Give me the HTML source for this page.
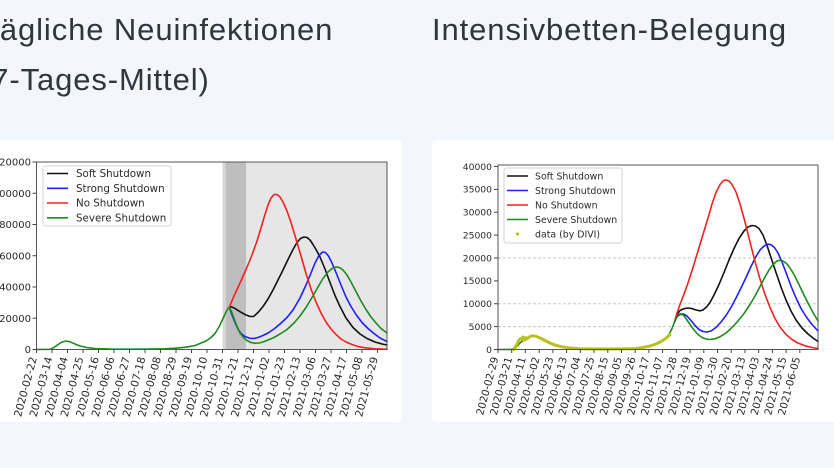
<!DOCTYPE html>
<html>
<head>
<meta charset="utf-8">
<style>
  html,body{margin:0;padding:0;}
  body{width:834px;height:468px;overflow:hidden;background:#f3f6fa;position:relative;}
  .title{position:absolute;top:5px;font-family:"Liberation Sans",sans-serif;font-size:31px;line-height:50px;letter-spacing:0.9px;color:#30363e;white-space:nowrap;}
  .panel{position:absolute;top:140px;height:282px;width:422px;background:#fff;border-radius:4px;}
  svg{position:absolute;left:0;top:0;}
  svg text{font-family:"DejaVu Sans","Liberation Sans",sans-serif;fill:#2a2a2a;}
</style>
</head>
<body>
<div class="title" style="left:-20px;">Tägliche Neuinfektionen<br>(7-Tages-Mittel)</div>
<div class="title" style="left:432px;">Intensivbetten-Belegung</div>
<div class="panel" style="left:-20px;"></div>
<div class="panel" style="left:432px;"></div>

<svg width="834" height="468" viewBox="0 0 834 468">
  <!-- ================= LEFT CHART ================= -->
  <rect x="222.7" y="162" width="164.3" height="187.5" fill="#e6e6e6"/>
  <rect x="222.7" y="162" width="3.3" height="187.5" fill="#d5d5d5"/>
  <rect x="226" y="162" width="20" height="187.5" fill="#bebebe"/>

  <g fill="none" stroke-width="1.6" stroke-linejoin="round" stroke-linecap="round">
    <polyline stroke="#111" points="229.3,307.3 231.5,306.8 235,308.5 240,311.7 245,314.5 250,316.5 253.5,316.5 258,312.5 263,306.5 268,299 273,290 278,280 283,270 288,259.5 293,249.5 297,242.5 300.5,238.5 304,237 307,237.5 310,240 313,244.5 316,249.5 320,257 325,269 330,282.5 335,295.5 340,306.5 346,318 353,327.5 360,334 367,338.5 375,342 382,344 387,345"/>
    <polyline stroke="#1f1fff" points="229.3,307.3 232,315 235,322.5 238,329 241,333.5 245,336.5 250,338.3 254,338.5 258,337.5 263,335.5 268,333 274,329 280,324 287,317.5 293,310 300,298 306,285 311,273 315,263 319,255.5 322.5,252 325.5,252.5 328.5,256 332,263 336,272.5 341,285 346,297 351,306.5 356,314.5 362,322.5 368,328.5 374,333.5 380,338 387,341.5"/>
    <polyline stroke="#f52020" points="229.3,307.3 234,296 240,283 246,269.5 252,255 257,241 261,228 264.5,216 268,205 271,198 274,194.5 277,194.5 280,197 283,202 287,211 291,222.5 296,239 301,256 306,273.5 311,289 316,302 321,313 326,322 331,329 336,334.5 341,339 346,342 352,344.5 358,346.5 365,347.8 375,348.8 387,349.3"/>
    <polyline stroke="#1e8a1e" points="36.5,349.5 50,349.3 54,347.5 58,344.5 62,342 66,341 70,341.8 75,344 80,346 87,347.6 95,348.5 110,349 130,349.2 150,349.1 165,348.8 175,348.2 186,347.2 195,345.5 200,343.5 206,341 211,337.5 215,333.5 219,327 223,318.5 226,312 228,308.5 229.3,307.3 231.5,311.5 234,318.5 237,326.5 240,333 243.5,337.5 247,340.5 251,342.5 255,343.2 259,343 263,342 268,340 274,337.5 280,334 287,329.5 294,323 300,316 306,307.5 312,297.5 318,287 323,278.5 328,272 332,268.5 336,267 339.5,267.5 343,270 347,275 351,282 356,291.5 361,301 366,309.5 371,317 376,323 381,328.5 387,333"/>
  </g>

  <!-- axes frame -->
  <rect x="36.5" y="162" width="350.5" height="187.5" fill="none" stroke="#555" stroke-width="1"/>

  <!-- y ticks -->
  <g stroke="#444" stroke-width="1">
    <line x1="32.5" y1="349.5" x2="36.5" y2="349.5"/>
    <line x1="32.5" y1="318.25" x2="36.5" y2="318.25"/>
    <line x1="32.5" y1="287" x2="36.5" y2="287"/>
    <line x1="32.5" y1="255.75" x2="36.5" y2="255.75"/>
    <line x1="32.5" y1="224.5" x2="36.5" y2="224.5"/>
    <line x1="32.5" y1="193.25" x2="36.5" y2="193.25"/>
    <line x1="32.5" y1="162" x2="36.5" y2="162"/>
  </g>
  <g font-size="10" text-anchor="end">
    <text x="31" y="353">0</text>
    <text x="31" y="321.8">20000</text>
    <text x="31" y="290.5">40000</text>
    <text x="31" y="259.3">60000</text>
    <text x="31" y="228">80000</text>
    <text x="31" y="196.8">100000</text>
    <text x="31" y="165.5">120000</text>
  </g>

  <!-- x ticks -->
  <g stroke="#444" stroke-width="1">
    <line x1="36.5" y1="349.5" x2="36.5" y2="353"/><line x1="52" y1="349.5" x2="52" y2="353"/>
    <line x1="67.5" y1="349.5" x2="67.5" y2="353"/><line x1="83" y1="349.5" x2="83" y2="353"/>
    <line x1="98.5" y1="349.5" x2="98.5" y2="353"/><line x1="114" y1="349.5" x2="114" y2="353"/>
    <line x1="129.5" y1="349.5" x2="129.5" y2="353"/><line x1="145" y1="349.5" x2="145" y2="353"/>
    <line x1="160.5" y1="349.5" x2="160.5" y2="353"/><line x1="176" y1="349.5" x2="176" y2="353"/>
    <line x1="191.5" y1="349.5" x2="191.5" y2="353"/><line x1="207" y1="349.5" x2="207" y2="353"/>
    <line x1="222.5" y1="349.5" x2="222.5" y2="353"/><line x1="238" y1="349.5" x2="238" y2="353"/>
    <line x1="253.5" y1="349.5" x2="253.5" y2="353"/><line x1="269" y1="349.5" x2="269" y2="353"/>
    <line x1="284.5" y1="349.5" x2="284.5" y2="353"/><line x1="300" y1="349.5" x2="300" y2="353"/>
    <line x1="315.5" y1="349.5" x2="315.5" y2="353"/><line x1="331" y1="349.5" x2="331" y2="353"/>
    <line x1="346.5" y1="349.5" x2="346.5" y2="353"/><line x1="362" y1="349.5" x2="362" y2="353"/>
    <line x1="377.5" y1="349.5" x2="377.5" y2="353"/>
  </g>
  <g font-size="10.6" text-anchor="end">
    <text transform="translate(37,358) rotate(-75)">2020-02-22</text>
    <text transform="translate(52.5,358) rotate(-75)">2020-03-14</text>
    <text transform="translate(68,358) rotate(-75)">2020-04-04</text>
    <text transform="translate(83.5,358) rotate(-75)">2020-04-25</text>
    <text transform="translate(99,358) rotate(-75)">2020-05-16</text>
    <text transform="translate(114.5,358) rotate(-75)">2020-06-06</text>
    <text transform="translate(130,358) rotate(-75)">2020-06-27</text>
    <text transform="translate(145.5,358) rotate(-75)">2020-07-18</text>
    <text transform="translate(161,358) rotate(-75)">2020-08-08</text>
    <text transform="translate(176.5,358) rotate(-75)">2020-08-29</text>
    <text transform="translate(192,358) rotate(-75)">2020-09-19</text>
    <text transform="translate(207.5,358) rotate(-75)">2020-10-10</text>
    <text transform="translate(223,358) rotate(-75)">2020-10-31</text>
    <text transform="translate(238.5,358) rotate(-75)">2020-11-21</text>
    <text transform="translate(254,358) rotate(-75)">2020-12-12</text>
    <text transform="translate(269.5,358) rotate(-75)">2021-01-02</text>
    <text transform="translate(285,358) rotate(-75)">2021-01-23</text>
    <text transform="translate(300.5,358) rotate(-75)">2021-02-13</text>
    <text transform="translate(316,358) rotate(-75)">2021-03-06</text>
    <text transform="translate(331.5,358) rotate(-75)">2021-03-27</text>
    <text transform="translate(347,358) rotate(-75)">2021-04-17</text>
    <text transform="translate(362.5,358) rotate(-75)">2021-05-08</text>
    <text transform="translate(378,358) rotate(-75)">2021-05-29</text>
  </g>

  <!-- legend left -->
  <rect x="43" y="166" width="128" height="60" rx="2.5" fill="#fff" fill-opacity="0.9" stroke="#d2d2d2" stroke-width="1"/>
  <g stroke-width="1.6">
    <line x1="47" y1="173.5" x2="68" y2="173.5" stroke="#111"/>
    <line x1="47" y1="188.3" x2="68" y2="188.3" stroke="#1f1fff"/>
    <line x1="47" y1="203" x2="68" y2="203" stroke="#f52020"/>
    <line x1="47" y1="217.8" x2="68" y2="217.8" stroke="#1e8a1e"/>
  </g>
  <g font-size="10.3">
    <text x="76" y="177.2">Soft Shutdown</text>
    <text x="76" y="192">Strong Shutdown</text>
    <text x="76" y="206.7">No Shutdown</text>
    <text x="76" y="221.5">Severe Shutdown</text>
  </g>

  <!-- ================= RIGHT CHART ================= -->
  <g stroke="#c8c8c8" stroke-width="1" stroke-dasharray="3,2">
    <line x1="498" y1="258" x2="818" y2="258"/>
    <line x1="498" y1="303.75" x2="818" y2="303.75"/>
    <line x1="498" y1="326.6" x2="818" y2="326.6"/>
  </g>

  <g fill="none" stroke-width="1.6" stroke-linejoin="round" stroke-linecap="round">
    <polyline stroke="#111" points="674.5,322 677,314.5 680,310.5 683.5,308.8 688,308 692,308.6 696,310 700,310.8 703,310 706.5,307 710,302.5 714,295 719,284.5 724,272.5 729,260 734,248.5 739,238.5 744,231 748,227 752,225.5 755.5,226 759,228.5 763,235 767,245.5 771,257.5 776,272.5 781,287 786,300 791,311 796,320 802,328 808,334 813,338 818,341.5"/>
    <polyline stroke="#1f1fff" points="674.5,322 677,316 680,314 683.5,314 687,316 691,320.5 695,325.5 699,329.5 703,331.5 707,332 711,331 716,327.5 721,322 726,315.5 731,307.5 736,298 741,288 746,277.5 751,266.5 756,256.5 760,250 764,246 767.5,244.2 771,244.6 774.5,247.5 778,253 782,262 786,272.5 791,286 796,298 801,308.5 806,316.5 812,324.5 818,331"/>
    <polyline stroke="#f52020" points="674.5,322 677,313 680,304.5 683.5,295.5 688,283 693,267.5 698,251 703,234.5 708,218 712,204 716,192.5 720,184.5 723.5,180.5 726,180 729,181 732,184.5 736,192 740,204 745,222 750,242 755,261.5 760,279 765,294.5 770,307.5 775,318.5 780,327 786,334.5 792,339.5 798,343 805,345.8 812,347.5 818,348.5"/>
    <polyline stroke="#1e8a1e" points="498,349.5 512,349.4 516,347.5 520,343 525,339 530,336.5 535,336 540,337.5 546,340.5 553,344 560,346.5 570,348.2 590,349 620,348.9 635,348.5 645,347.3 653,345.3 660,342 665,338.5 669,334.5 672,328.5 674.5,322 677,317 680,314.5 683,314.8 686,318.5 690,324.5 694,330 698,334.5 702,337.5 706,339 710,339.5 715,338.8 720,336.8 726,333 732,327.5 738,321 744,313.5 750,304.5 755,296 760,286.5 765,277 769,270 773,264.5 777,261 780,260.3 783,261 786.5,263.5 790,268 794,274.5 798,282.5 803,293 808,303 813,312.5 818,321"/>
    <!-- data dots (by DIVI) -->
    <polyline stroke="#b9c21c" stroke-width="3" points="514,349.3 516,346 517.5,343 519,340 520.5,338.5 522,339.5 523,337 524.5,340 525.5,337.5 527,339 528.5,337.5 530,336.5 533,335.8 536,336.3 539,337.5 543,339.5 547,341.5 551,343.5 556,345.3 562,346.8 570,348 580,348.7 600,349 620,348.9 635,348.6 643,347.5 650,346 656,344 661,341.5 665,339 668,336.5 670,334.5"/>
  </g>

  <rect x="498" y="165" width="320" height="184.5" fill="none" stroke="#555" stroke-width="1"/>

  <!-- right y ticks -->
  <g stroke="#444" stroke-width="1">
    <line x1="494" y1="349.5" x2="498" y2="349.5"/>
    <line x1="494" y1="326.6" x2="498" y2="326.6"/>
    <line x1="494" y1="303.75" x2="498" y2="303.75"/>
    <line x1="494" y1="280.9" x2="498" y2="280.9"/>
    <line x1="494" y1="258" x2="498" y2="258"/>
    <line x1="494" y1="235.1" x2="498" y2="235.1"/>
    <line x1="494" y1="212.25" x2="498" y2="212.25"/>
    <line x1="494" y1="189.4" x2="498" y2="189.4"/>
    <line x1="494" y1="166.5" x2="498" y2="166.5"/>
  </g>
  <g font-size="9.2" text-anchor="end">
    <text x="492" y="352.8">0</text>
    <text x="492" y="329.9">5000</text>
    <text x="492" y="307.1">10000</text>
    <text x="492" y="284.2">15000</text>
    <text x="492" y="261.3">20000</text>
    <text x="492" y="238.4">25000</text>
    <text x="492" y="215.6">30000</text>
    <text x="492" y="192.7">35000</text>
    <text x="492" y="169.8">40000</text>
  </g>

  <!-- right x ticks -->
  <g stroke="#444" stroke-width="1">
    <line x1="498" y1="349.5" x2="498" y2="353"/><line x1="511.7" y1="349.5" x2="511.7" y2="353"/>
    <line x1="525.4" y1="349.5" x2="525.4" y2="353"/><line x1="539.2" y1="349.5" x2="539.2" y2="353"/>
    <line x1="552.9" y1="349.5" x2="552.9" y2="353"/><line x1="566.6" y1="349.5" x2="566.6" y2="353"/>
    <line x1="580.3" y1="349.5" x2="580.3" y2="353"/><line x1="594" y1="349.5" x2="594" y2="353"/>
    <line x1="607.8" y1="349.5" x2="607.8" y2="353"/><line x1="621.5" y1="349.5" x2="621.5" y2="353"/>
    <line x1="635.2" y1="349.5" x2="635.2" y2="353"/><line x1="648.9" y1="349.5" x2="648.9" y2="353"/>
    <line x1="662.6" y1="349.5" x2="662.6" y2="353"/><line x1="676.4" y1="349.5" x2="676.4" y2="353"/>
    <line x1="690.1" y1="349.5" x2="690.1" y2="353"/><line x1="703.8" y1="349.5" x2="703.8" y2="353"/>
    <line x1="717.5" y1="349.5" x2="717.5" y2="353"/><line x1="731.2" y1="349.5" x2="731.2" y2="353"/>
    <line x1="745" y1="349.5" x2="745" y2="353"/><line x1="758.7" y1="349.5" x2="758.7" y2="353"/>
    <line x1="772.4" y1="349.5" x2="772.4" y2="353"/><line x1="786.1" y1="349.5" x2="786.1" y2="353"/>
    <line x1="799.8" y1="349.5" x2="799.8" y2="353"/>
  </g>
  <g font-size="10.3" text-anchor="end">
    <text transform="translate(498.5,358) rotate(-75)">2020-02-29</text>
    <text transform="translate(512.2,358) rotate(-75)">2020-03-21</text>
    <text transform="translate(525.9,358) rotate(-75)">2020-04-11</text>
    <text transform="translate(539.7,358) rotate(-75)">2020-05-02</text>
    <text transform="translate(553.4,358) rotate(-75)">2020-05-23</text>
    <text transform="translate(567.1,358) rotate(-75)">2020-06-13</text>
    <text transform="translate(580.8,358) rotate(-75)">2020-07-04</text>
    <text transform="translate(594.5,358) rotate(-75)">2020-07-25</text>
    <text transform="translate(608.3,358) rotate(-75)">2020-08-15</text>
    <text transform="translate(622,358) rotate(-75)">2020-09-05</text>
    <text transform="translate(635.7,358) rotate(-75)">2020-09-26</text>
    <text transform="translate(649.4,358) rotate(-75)">2020-10-17</text>
    <text transform="translate(663.1,358) rotate(-75)">2020-11-07</text>
    <text transform="translate(676.9,358) rotate(-75)">2020-11-28</text>
    <text transform="translate(690.6,358) rotate(-75)">2020-12-19</text>
    <text transform="translate(704.3,358) rotate(-75)">2021-01-09</text>
    <text transform="translate(718,358) rotate(-75)">2021-01-30</text>
    <text transform="translate(731.7,358) rotate(-75)">2021-02-20</text>
    <text transform="translate(745.5,358) rotate(-75)">2021-03-13</text>
    <text transform="translate(759.2,358) rotate(-75)">2021-04-03</text>
    <text transform="translate(772.9,358) rotate(-75)">2021-04-24</text>
    <text transform="translate(786.6,358) rotate(-75)">2021-05-15</text>
    <text transform="translate(800.3,358) rotate(-75)">2021-06-05</text>
  </g>

  <!-- legend right -->
  <rect x="504" y="168" width="118" height="75" rx="2.5" fill="#fff" fill-opacity="0.9" stroke="#d2d2d2" stroke-width="1"/>
  <g stroke-width="1.6">
    <line x1="507" y1="176" x2="528" y2="176" stroke="#111"/>
    <line x1="507" y1="190.5" x2="528" y2="190.5" stroke="#1f1fff"/>
    <line x1="507" y1="205" x2="528" y2="205" stroke="#f52020"/>
    <line x1="507" y1="219.5" x2="528" y2="219.5" stroke="#1e8a1e"/>
  </g>
  <circle cx="517.5" cy="234" r="1.6" fill="#b9c21c"/>
  <g font-size="9.4">
    <text x="535" y="179.4">Soft Shutdown</text>
    <text x="535" y="193.9">Strong Shutdown</text>
    <text x="535" y="208.4">No Shutdown</text>
    <text x="535" y="222.9">Severe Shutdown</text>
    <text x="535" y="237.4">data (by DIVI)</text>
  </g>
</svg>
</body>
</html>
